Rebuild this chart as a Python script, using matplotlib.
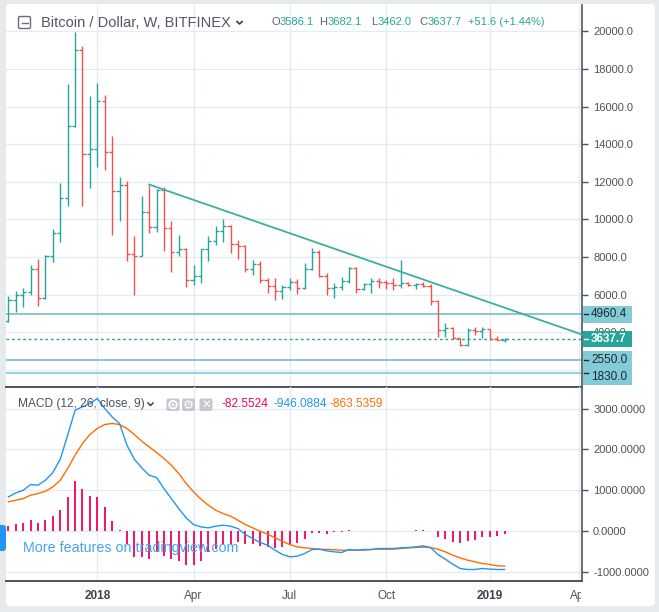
import matplotlib
matplotlib.use("Agg")
import matplotlib.pyplot as plt
import numpy as np
import pandas as pd
from matplotlib.patches import FancyBboxPatch, Rectangle, Circle
from matplotlib.lines import Line2D
from matplotlib.transforms import IdentityTransform, Bbox

plt.rcParams['font.family'] = ['Liberation Sans', 'DejaVu Sans']

# ---------------- data ----------------
first_week = "2017-10-09"
opens = [4616, 5716, 6000, 6160, 7367, 5822, 8077, 9284, 11148, 14964,
         18993, 13490, 13757, 16277, 13578, 11538, 11840, 8166, 8077, 10420,
         9603, 11573, 9568, 8254, 8432, 6797, 7009, 8407, 8832, 9398,
         9628, 8708, 8584, 7345, 7646, 6761, 6443, 6177, 6407, 6690,
         6372, 7381, 8266, 7009, 6336, 6430, 6728, 7439, 6284, 6551,
         6728, 6657, 6604, 6515, 6639, 6533, 6560, 6480, 5681, 4117,
         4241, 3710, 3320, 4117, 4064, 4170, 3640, 3586.1]
highs = [5947, 6213, 6355, 7598, 7917, 8112, 9515, 11911, 17218, 19969,
         19206, 16544, 17271, 16597, 14414, 12230, 12035, 9106, 11272, 11857,
         11627, 11715, 9940, 9195, 8496, 7558, 8443, 9098, 9628, 10000,
         9682, 8885, 8655, 7823, 7770, 6885, 6885, 6531, 6885, 6850,
         7699, 8496, 8354, 7168, 6630, 6941, 7492, 7456, 6639, 6906,
         6906, 6781, 6870, 7847, 6657, 6639, 6660, 6550, 5700, 4513,
         4280, 3720, 4241, 4294, 4294, 4200, 3816, 3682.1]
lows = [4527, 5059, 5325, 5982, 5379, 5769, 7722, 8787, 10704, 14900,
        10704, 11662, 12781, 12603, 9195, 9905, 7775, 5982, 8041, 9284,
        9319, 8307, 7189, 8041, 6407, 6496, 6620, 7770, 8620, 8797,
        8213, 7894, 7204, 7027, 6620, 6089, 5699, 5752, 6265, 6053,
        6318, 7300, 6938, 6000, 5840, 6249, 6639, 6107, 6249, 6107,
        6337, 6320, 6249, 6337, 6462, 6284, 6430, 5451, 3735, 3735,
        3620, 3284, 3290, 3850, 3674, 3590, 3585, 3462.0]
closes = [5716, 6000, 6160, 7367, 5822, 8077, 9284, 11148, 14964, 18993,
          13490, 13757, 16277, 13578, 11538, 11840, 8166, 8077, 10420, 9603,
          11573, 9568, 8254, 8432, 6797, 7009, 8407, 8832, 9398, 9628,
          8708, 8584, 7345, 7646, 6761, 6443, 6177, 6407, 6690, 6372,
          7381, 8266, 7009, 6336, 6430, 6728, 7439, 6284, 6551, 6728,
          6657, 6604, 6515, 6639, 6533, 6560, 6480, 5681, 4117, 4241,
          3710, 3320, 4117, 4064, 4170, 3640, 3586.1, 3637.7]

macd_line = [834, 932, 998, 1137, 1121, 1243, 1431, 1759, 2348, 2961,
             3043, 3125, 3248, 3002, 2798, 2634, 2102, 1759, 1546, 1366,
             1309, 1039, 793, 548, 319, 155, 98, 74, 115, 139,
             115, 57, -90, -188, -286, -351, -473, -579, -636, -620,
             -555, -457, -449, -490, -514, -530, -457, -473, -457, -457,
             -432, -432, -432, -416, -408, -392, -367, -408, -579, -694,
             -816, -922, -947, -947, -922, -938, -947, -946.0884]
signal_line = [712, 753, 793, 875, 916, 973, 1080, 1243, 1530, 1857,
               2143, 2364, 2511, 2609, 2634, 2609, 2511, 2364, 2200, 2061,
               1922, 1775, 1611, 1407, 1162, 957, 777, 630, 507, 425,
               360, 262, 155, 74, -8, -80, -170, -253, -335, -392,
               -416, -432, -449, -457, -460, -473, -473, -473, -473, -457,
               -449, -449, -449, -432, -416, -408, -400, -408, -449, -514,
               -596, -661, -718, -759, -800, -824, -857, -863.5359]
histogram = [123, 164, 188, 262, 188, 262, 360, 507, 826, 1219,
             1023, 859, 826, 589, 237, 16, -311, -638, -638, -695,
             -515, -622, -695, -736, -843, -843, -736, -515, -450, -311,
             -311, -270, -311, -310, -375, -400, -408, -392, -310, -286,
             -204, -49, -41, -65, -30, -30, 10, -5, -5, 0,
             5, 5, 5, 5, 5, 15, 15, 0, -147, -204,
             -269, -294, -245, -212, -147, -147, -122, -82.5524]

level_values = [4960.4, 2550.0, 1830.0]
level_labels = ["4960.4", "2550.0", "1830.0"]
last_close_label = "3637.7"

trend_idx = [19, 45]
trend_val = [11857, 8311]

price_ticks = [2000, 4000, 6000, 8000, 10000, 12000, 14000, 16000, 18000, 20000]
macd_ticks = [-1000, 0, 1000, 2000, 3000]
tick_dates = ["2018-01-01", "2018-04-02", "2018-07-02", "2018-10-01", "2019-01-07", "2019-04-01"]
tick_labels = ["2018", "Apr", "Jul", "Oct", "2019", "Apr"]
tick_bold = [True, False, False, False, True, False]

header_title = "Bitcoin / Dollar, W, BITFINEX"
ohlc_parts = [("O", "3586.1"), ("H", "3682.1"), ("L", "3462.0"), ("C", "3637.7")]
change_text = "+51.6 (+1.44%)"
macd_title = "MACD (12, 26, close, 9)"
macd_values = ["-82.5524", "-946.0884", "-863.5359"]

# ---------------- styling ----------------
GREEN = "#26a69a"
RED = "#ef5350"
GRID = "#e4ecf2"
AXIS = "#50535e"
TXT = "#4c525e"
BLUE = "#2196f3"
ORANGE = "#ff6d00"
PINK = "#f50057"
LEVEL = "#80c4c9"
LEVEL2 = "#80d2e3"
BOXC = "#82ccd8"

W, H = 659, 612
fig = plt.figure(figsize=(W / 100, H / 100), dpi=100)
fig.patch.set_facecolor("#e7eaed")

def fx(px):
    return px / W

def fy(py):
    return 1 - py / H

ident = IdentityTransform()
card = FancyBboxPatch((6, H - 606), 649, 602, boxstyle="round,pad=0,rounding_size=4",
                      transform=ident, facecolor="white", edgecolor="none", zorder=-10)
fig.add_artist(card)

start = pd.Timestamp(first_week)
n = len(opens)
idx = np.arange(n)
tick_pos = ((pd.to_datetime(tick_dates) - start).days / 7.0).values

x_left, x_right = -0.33, 77.46

ax = fig.add_axes([fx(6), fy(387), fx(576), (387 - 5) / H])
axm = fig.add_axes([fx(6), fy(581), fx(576), (581 - 387) / H])

for a in (ax, axm):
    a.set_facecolor("none")
    a.set_xlim(x_left, x_right)
    a.yaxis.tick_right()
    a.spines["top"].set_visible(False)
    a.spines["left"].set_visible(False)
    a.spines["right"].set_color(AXIS)
    a.spines["bottom"].set_color(AXIS)
    a.spines["right"].set_linewidth(1.2)
    a.spines["bottom"].set_linewidth(1.4)
    a.set_xticks(tick_pos)
    a.grid(True, color=GRID, linewidth=1.0, zorder=0)
    a.set_axisbelow(True)
    a.tick_params(axis="y", direction="out", length=4, width=1, color=AXIS,
                  labelsize=8, labelcolor=TXT, pad=4)

ax.tick_params(axis="x", length=0, labelbottom=False)
axm.tick_params(axis="x", length=0, labelbottom=False)

# ---- price panel ----
ax.set_ylim(1094, 21398)
ax.set_yticks(price_ticks)
# the 2000 label sits fully behind the level boxes, as in the source chart
ax.set_yticklabels(["" if v == 2000 else f"{v:.1f}" for v in price_ticks])

colors = [GREEN if c >= o else RED for o, c in zip(opens, closes)]
lw_bar = 1.0
ax.vlines(idx, lows, highs, colors=colors, linewidth=lw_bar, zorder=3)
ax.hlines(opens, idx - 0.42, idx, colors=colors, linewidth=lw_bar, zorder=3)
ax.hlines(closes, idx, idx + 0.42, colors=colors, linewidth=lw_bar, zorder=3)

for v, c in zip(level_values, [LEVEL, LEVEL, LEVEL2]):
    ax.axhline(v, color=c, linewidth=1.3, zorder=2)
ax.axhline(closes[-1], color=GREEN, linewidth=1.0, linestyle=(0, (2, 2)), zorder=2)

slope = (trend_val[1] - trend_val[0]) / (trend_idx[1] - trend_idx[0])
tx = np.array([trend_idx[0], x_right])
ty = trend_val[0] + slope * (tx - trend_idx[0])
ax.plot(tx, ty, color="#3fae9f", linewidth=1.3, zorder=4, clip_on=False)

# ---- MACD panel ----
axm.set_ylim(-1229, 3529)
axm.set_yticks(macd_ticks)
axm.set_yticklabels([f"{v:.4f}" for v in macd_ticks])
axm.vlines(idx, 0, histogram, colors=PINK, linewidth=1.3, zorder=3)
axm.plot(idx, signal_line, color=ORANGE, linewidth=1.0, zorder=4)
axm.plot(idx, macd_line, color=BLUE, linewidth=1.0, zorder=5)

# time axis labels
for p, lab, b in zip(tick_pos, tick_labels, tick_bold):
    t = axm.text(p, -0.075, lab, transform=axm.get_xaxis_transform(), ha="center", va="center",
                 fontsize=8.5, color=TXT if not b else "#3c414b",
                 fontweight="bold" if b else "normal", clip_on=True)
    t.set_clip_box(Bbox.from_extents(0, 0, 581, H))

# ---- right-axis label boxes ----
def disp_y(a, v):
    return a.transData.transform((0, v))[1]

def label_box(v, text, face, tcol, bold=False, shift=0.0):
    yc = disp_y(ax, v) + shift
    fig.add_artist(Rectangle((583, yc - 8.3), 49, 16.6, transform=ident,
                             facecolor=face, edgecolor="none", zorder=20))
    fig.add_artist(Line2D([583.5, 587.5], [disp_y(ax, v), disp_y(ax, v)], transform=ident,
                          color=tcol, linewidth=1.0, zorder=21))
    fig.text(591 / W, yc / H, text, ha="left", va="center", fontsize=8.5, color=tcol,
             fontweight="bold" if bold else "normal", zorder=22)

label_box(level_values[0], level_labels[0], BOXC, "#1d2733")
label_box(closes[-1], last_close_label, GREEN, "white", bold=True)
label_box(level_values[1], level_labels[1], BOXC, "#1d2733")
label_box(level_values[2], level_labels[2], BOXC, "#1d2733", shift=-3.5)

# ---- header (price) ----
fig.add_artist(FancyBboxPatch((18.5, H - 28.5), 12, 12, boxstyle="round,pad=0,rounding_size=1.5",
                              transform=ident, facecolor="white", edgecolor="#6a6d78", linewidth=1.0, zorder=20))
fig.add_artist(Line2D([21.5, 27.5], [H - 22.5, H - 22.5], transform=ident, color="#6a6d78", linewidth=1.0, zorder=21))
fig.text(fx(41), fy(23), header_title, fontsize=10.5, color="#535763", va="center", ha="left", zorder=21)
fig.add_artist(Line2D([237, 239.5, 242], [H - 21.5, H - 24, H - 21.5], transform=ident,
                      color="#3c3f47", linewidth=1.2, zorder=21))

ohlc_x = [271, 319, 371, 419]
for (k, v), x0 in zip(ohlc_parts, ohlc_x):
    fig.text(fx(x0), fy(22), k, fontsize=8, color="#5d606b", va="center", ha="left", zorder=21)
    fig.text(fx(x0 + (8.5 if k != "L" else 7)), fy(22), v, fontsize=8, color=GREEN,
             va="center", ha="left", zorder=21)
fig.text(fx(468), fy(22), change_text, fontsize=8, color=GREEN, va="center", ha="left", zorder=21)

# ---- header (MACD) ----
fig.text(fx(18), fy(404), macd_title, fontsize=8.6, color="#4c505b", va="center", ha="left", zorder=21)
fig.add_artist(Line2D([148, 150.5, 153], [H - 403, H - 405.5, H - 403], transform=ident,
                      color="#3c3f47", linewidth=1.1, zorder=21))
for x0 in (166.5, 182, 199.5):
    fig.add_artist(FancyBboxPatch((x0, H - 411), 13, 12.5, boxstyle="round,pad=0,rounding_size=2",
                                  transform=ident, facecolor="#c4c7cf", edgecolor="none", zorder=20))
fig.add_artist(Circle((173, H - 404.7), 3.8, transform=ident, facecolor="none", edgecolor="white", linewidth=1.3, zorder=21))
fig.add_artist(Circle((173, H - 404.7), 1.3, transform=ident, facecolor="white", edgecolor="none", zorder=21))
fig.text(188.5 / W, fy(405), "\u2699", fontsize=9, color="white", ha="center", va="center",
         family=["DejaVu Sans"], zorder=22)
fig.text(206 / W, fy(405), "\u2715", fontsize=8.5, color="white", ha="center", va="center",
         family=["DejaVu Sans"], zorder=22)
fig.text(fx(222), fy(404), macd_values[0], fontsize=8.6, color=PINK, va="center", ha="left", zorder=21)
fig.text(fx(274), fy(404), macd_values[1], fontsize=8.6, color=BLUE, va="center", ha="left", zorder=21)
fig.text(fx(330), fy(404), macd_values[2], fontsize=8.6, color=ORANGE, va="center", ha="left", zorder=21)

# ---- watermark & side tab ----
fig.text(fx(23), fy(548), "More features on tradingview.com", fontsize=10.3, color="#46a3ef",
         va="center", ha="left", zorder=21)
fig.add_artist(FancyBboxPatch((-5, H - 551), 11, 26, boxstyle="round,pad=0,rounding_size=3",
                              transform=ident, facecolor=BLUE, edgecolor="none", zorder=20))

fig.savefig("out.png", dpi=100, facecolor=fig.get_facecolor())
